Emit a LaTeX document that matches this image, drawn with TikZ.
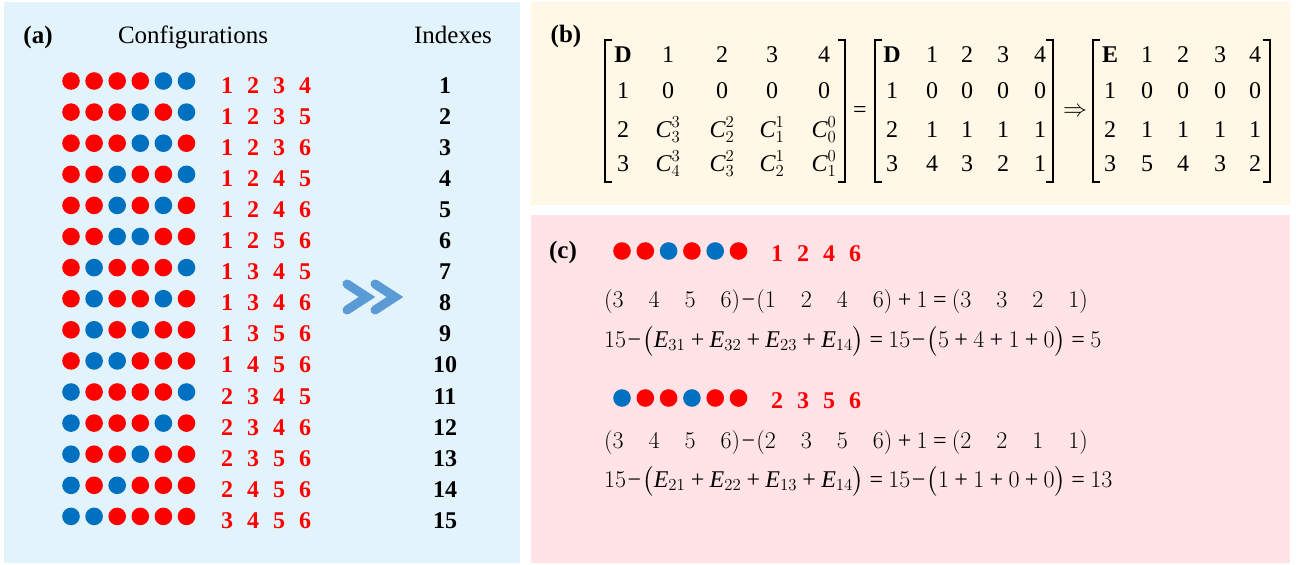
\RequirePackage{fix-cm}
\documentclass[tikz,border=0pt]{standalone}
\usepackage{amsmath}
\usepackage{fontspec}
\setmainfont{Liberation Serif}
\DeclareSymbolFont{operators}{TU}{\rmdefault}{m}{n}
\definecolor{merah}{HTML}{FF0000}
\definecolor{biru}{HTML}{0070C0}
\definecolor{latarA}{HTML}{E2F3FB}
\definecolor{latarB}{HTML}{FFF8E6}
\definecolor{latarC}{HTML}{FFE3E6}
\definecolor{panah}{HTML}{5B9BD5}
\newcommand\gp{\hspace{25pt}}
\newcommand\pl{\mkern4mu\text{+}\mkern4mu}
\newcommand\mi{\mkern1mu\text{−}\mkern1mu}
\newcommand\eq{\mkern4mu\text{=}\mkern4mu}
\begin{document}
\begin{tikzpicture}[x=1pt,y=-1pt]
    % Sumbu y dibalik (y=-1pt): koordinat sama dengan piksel gambar 1299 x 565.
    \tikzset{
      judul/.style={anchor=base,font=\fontsize{25}{30}\selectfont},
      panel/.style={anchor=base,font=\fontsize{25}{30}\selectfont\bfseries},
      angka/.style={anchor=base,text=merah,font=\fontsize{24}{29}\selectfont\bfseries},
      indeks/.style={anchor=base,font=\fontsize{24}{29}\selectfont\bfseries},
      entri/.style={anchor=base,font=\fontsize{24}{29}\selectfont},
      persamaan/.style={anchor=base west,inner sep=0pt,font=\fontsize{24}{29}\selectfont},
      kurung/.style={line width=1.2pt},
      chevron/.style={draw=panah,line width=9pt,line cap=round,line join=miter}}
    \useasboundingbox (0,0) rectangle (1299,565);
    \fill[white] (0,0) rectangle (1299,565);
    % Latar tiga panel
    \fill[latarA] (4,2) rectangle (520,563);
    \fill[latarB] (531,2) rectangle (1290,205);
    \fill[latarC] (531,215) rectangle (1290,563);
    % (a) lima belas konfigurasi, merah = posisi terisi
    \node[panel] (pa) at (38,43) {(a)};
    \node[judul] (konf) at (193,43) {Configurations};
    \node[judul] (idx) at (453,43) {Indexes};
    \foreach \ka/\kb/\kc/\kd [count=\i] in {1/2/3/4,1/2/3/5,1/2/3/6,1/2/4/5,
        1/2/4/6,1/2/5/6,1/3/4/5,1/3/4/6,1/3/5/6,1/4/5/6,
        2/3/4/5,2/3/4/6,2/3/5/6,2/4/5/6,3/4/5/6} {
      \pgfmathsetmacro\y{81+(\i-1)*31.1}
      \foreach \k in {1,...,6} {
        \pgfmathtruncatemacro\isi{(\k==\ka)||(\k==\kb)||(\k==\kc)||(\k==\kd)}
        \ifnum\isi=1 \def\warna{merah}\else\def\warna{biru}\fi
        \fill[\warna] ({71+(\k-1)*23.1},\y) circle (8.8);
      }
      \node[angka] (a\i-1) at (227,\y+12) {\ka};
      \node[angka] (a\i-2) at (253,\y+12) {\kb};
      \node[angka] (a\i-3) at (279,\y+12) {\kc};
      \node[angka] (a\i-4) at (305,\y+12) {\kd};
      \node[indeks] (n\i) at (445,\y+12) {\i};
    }
    \draw[chevron] (347,284) -- (367,297) -- (347,310);
    \draw[chevron] (375,284) -- (395,297) -- (375,310);
    % (b) matriks D dan E
    \node[panel] (pb) at (566,42) {(b)};
    \foreach \baris [count=\bi] in {{\textbf{D},1,2,3,4},{1,0,0,0,0},
        {2,$\textit{C}^3_3$,$\textit{C}^2_2$,$\textit{C}^1_1$,$\textit{C}^0_0$},
        {3,$\textit{C}^3_4$,$\textit{C}^2_3$,$\textit{C}^1_2$,$\textit{C}^0_1$}} {
      \pgfmathsetmacro\by{{62,98,137,171}[\bi-1]}
      \foreach \e [count=\ki] in \baris {
        \pgfmathsetmacro\bx{{623,668,722,772,824}[\ki-1]}
        \node[entri] (p-\bi-\ki) at (\bx,\by) {\e};
      }
    }
    \foreach \baris [count=\bi] in {{\textbf{D},1,2,3,4},{1,0,0,0,0},
        {2,1,1,1,1},{3,4,3,2,1}} {
      \pgfmathsetmacro\by{{62,98,137,171}[\bi-1]}
      \foreach \e [count=\ki] in \baris {
        \pgfmathsetmacro\bx{{892,932,967,1003,1040}[\ki-1]}
        \node[entri] (q-\bi-\ki) at (\bx,\by) {\e};
      }
    }
    \foreach \baris [count=\bi] in {{\textbf{E},1,2,3,4},{1,0,0,0,0},
        {2,1,1,1,1},{3,5,4,3,2}} {
      \pgfmathsetmacro\by{{62,98,137,171}[\bi-1]}
      \foreach \e [count=\ki] in \baris {
        \pgfmathsetmacro\bx{{1110,1147,1183,1220,1255}[\ki-1]}
        \node[entri] (r-\bi-\ki) at (\bx,\by) {\e};
      }
    }
    % kurung siku tiap matriks
    \foreach \xl/\xr in {605/845,875/1053,1093/1270} {
      \draw[kurung] (\xl+7,40) -- (\xl,40) -- (\xl,182) -- (\xl+7,182);
      \draw[kurung] (\xr-7,40) -- (\xr,40) -- (\xr,182) -- (\xr-7,182);
    }
    \node[entri,anchor=center] (sama) at (860,112) {=};
    \node[entri,anchor=center] (maka) at (1075,112) {$\Rightarrow$};
    % (c) dua contoh perhitungan indeks
    \node[panel] (pc) at (563,258) {(c)};
    \foreach \y/\ka/\kb/\kc/\kd [count=\j] in {251/1/2/4/6,398/2/3/5/6} {
      \foreach \k in {1,...,6} {
        \pgfmathtruncatemacro\isi{(\k==\ka)||(\k==\kb)||(\k==\kc)||(\k==\kd)}
        \ifnum\isi=1 \def\warna{merah}\else\def\warna{biru}\fi
        \fill[\warna] ({622+(\k-1)*23.3},\y) circle (8.8);
      }
      \node[angka] (c\j-1) at (777,\y+10) {\ka};
      \node[angka] (c\j-2) at (803,\y+10) {\kb};
      \node[angka] (c\j-3) at (829,\y+10) {\kc};
      \node[angka] (c\j-4) at (855,\y+10) {\kd};
    }
    \node[persamaan] (e1) at (604,307)
      {${\left(3\gp4\gp5\gp6\right)}\mi{\left(1\gp2\gp4\gp6\right)}\pl1\eq{\left(3\gp3\gp2\gp1\right)}$};
    \node[persamaan] (e2) at (604,347)
      {$15\mi{\bigl(\textit{E}_{31}\pl\textit{E}_{32}\pl\textit{E}_{23}\pl\textit{E}_{14}\bigr)}\eq15\mi{\bigl(5\pl4\pl1\pl0\bigr)}\eq5$};
    \node[persamaan] (e3) at (604,448)
      {${\left(3\gp4\gp5\gp6\right)}\mi{\left(2\gp3\gp5\gp6\right)}\pl1\eq{\left(2\gp2\gp1\gp1\right)}$};
    \node[persamaan] (e4) at (604,487)
      {$15\mi{\bigl(\textit{E}_{21}\pl\textit{E}_{22}\pl\textit{E}_{13}\pl\textit{E}_{14}\bigr)}\eq15\mi{\bigl(1\pl1\pl0\pl0\bigr)}\eq13$};
  \end{tikzpicture}
\end{document}
